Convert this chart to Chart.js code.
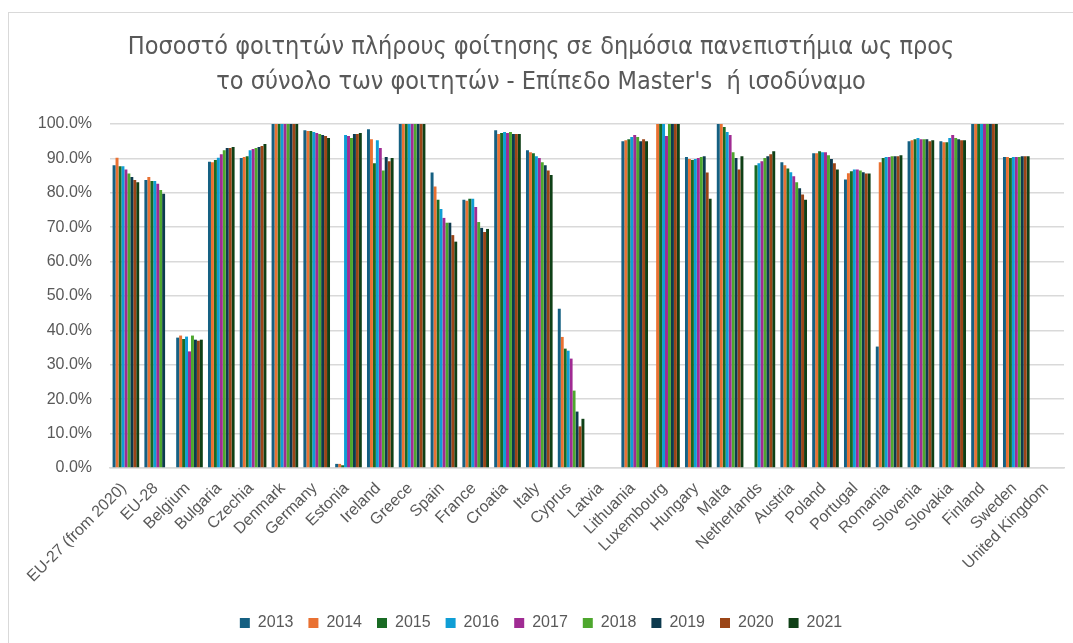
<!DOCTYPE html>
<html>
<head>
<meta charset="utf-8">
<script src="https://cdn.jsdelivr.net/npm/chart.js@4.4.1/dist/chart.umd.min.js"></script>
<style>
  html, body { margin: 0; padding: 0; background: #fff; overflow: hidden; }
  #frame { position: absolute; left: 8px; top: 12px; width: 1100px; height: 700px; border: 1px solid #d9d9d9; }
  #wrap { position: absolute; left: 0; top: 0; width: 1073px; height: 643px; }
</style>
</head>
<body>
<div id="frame"></div>
<div id="wrap"><canvas id="chart" width="1073" height="643"></canvas></div>
<script>
const categories = [
  "EU-27 (from 2020)", "EU-28", "Belgium", "Bulgaria", "Czechia", "Denmark", "Germany",
  "Estonia", "Ireland", "Greece", "Spain", "France", "Croatia", "Italy", "Cyprus", "Latvia",
  "Lithuania", "Luxembourg", "Hungary", "Malta", "Netherlands", "Austria", "Poland",
  "Portugal", "Romania", "Slovenia", "Slovakia", "Finland", "Sweden", "United Kingdom"
];

const years = ["2013", "2014", "2015", "2016", "2017", "2018", "2019", "2020", "2021"];

// percentage of students per year, one value per category (null = no data)
const y2013 = [88.0, 83.7, 37.9, 89.0, 90.1, 100, 98.2, 1.2, 98.5, 100, 85.9, 78.0, 98.2, 92.4, 46.3, null, 95.0, null, 90.4, 100, null, 88.9, 91.5, 83.9, 35.3, 95.0, 95.0, 100, 90.4, null];
const y2014 = [90.2, 84.6, 38.5, 88.9, 90.4, 100, 98.0, 1.2, 95.6, 100, 81.8, 77.7, 97.1, 91.8, 38.1, null, 95.3, 100, 89.8, 100, null, 88.0, 91.5, 85.7, 88.9, 95.3, 94.7, 100, 90.4, null];
const y2015 = [87.7, 83.4, 37.5, 89.5, 90.6, 100, 98.0, 0.8, 88.6, 100, 78.0, 78.3, 97.4, 91.5, 34.7, null, 95.6, 100, 89.5, 99.1, 88.0, 87.1, 92.1, 86.3, 90.1, 95.6, 94.7, 100, 90.1, null];
const y2016 = [87.7, 83.4, 38.2, 90.2, 92.4, 100, 97.7, 96.8, 95.3, 100, 75.3, 78.3, 97.7, 90.6, 34.1, null, 96.2, 100, 89.8, 97.7, 88.6, 86.0, 91.8, 86.8, 90.4, 95.9, 95.9, 100, 90.4, null];
const y2017 = [86.8, 82.6, 33.9, 91.2, 92.7, 100, 97.4, 96.5, 93.0, 100, 72.7, 75.9, 97.4, 90.1, 31.8, null, 96.8, 96.5, 90.1, 96.8, 89.2, 84.8, 91.8, 86.8, 90.4, 95.6, 96.8, 100, 90.4, null];
const y2018 = [85.6, 80.8, 38.5, 92.4, 93.0, 100, 97.1, 95.9, 86.5, 100, 71.3, 71.5, 97.7, 88.9, 22.5, null, 96.2, 100, 90.4, 91.8, 90.1, 83.1, 90.9, 86.5, 90.6, 95.6, 95.9, 100, 90.4, null];
const y2019 = [84.6, 79.7, 37.3, 93.0, 93.3, 100, 96.8, 97.1, 90.4, 100, 71.3, 69.8, 97.1, 88.0, 16.4, null, 95.0, 100, 90.6, 90.1, 90.6, 81.3, 89.8, 86.0, 90.6, 95.6, 95.6, 100, 90.6, null];
const y2020 = [83.7, null, 37.0, 93.0, 93.6, 100, 96.5, 97.1, 89.2, 100, 67.7, 68.6, 97.1, 86.5, 12.1, null, 95.6, 100, 85.9, 86.8, 91.2, 79.5, 88.6, 85.6, 90.6, 95.0, 95.3, 100, 90.6, null];
const y2021 = [83.1, null, 37.3, 93.3, 94.2, 100, 95.9, 97.4, 90.1, 100, 65.8, 69.5, 97.1, 85.2, 14.3, null, 95.0, 100, 78.3, 90.6, 92.1, 78.0, 86.8, 85.6, 90.9, 95.3, 95.3, 100, 90.6, null];

const series = [y2013, y2014, y2015, y2016, y2017, y2018, y2019, y2020, y2021];
const colors = ["#156082", "#E97132", "#196B24", "#0F9ED5", "#A02B93", "#4EA72E", "#0D3A4E", "#9B4517", "#0F4016"];

const textColor = "#595959";
const gridColor = "#d9d9d9";

const ctx = document.getElementById("chart").getContext("2d");
new Chart(ctx, {
  type: "bar",
  data: {
    labels: categories,
    datasets: years.map((y, i) => ({
      label: y,
      data: series[i],
      backgroundColor: colors[i],
      borderWidth: 0,
      barPercentage: 1.0,
      categoryPercentage: 0.837,
    })),
  },
  options: {
    responsive: false,
    animation: false,
    layout: { padding: { left: 18, right: 9, top: 0, bottom: 2 } },
    plugins: {
      title: {
        display: true,
        text: [
          "Ποσοστό φοιτητών πλήρους φοίτησης σε δημόσια πανεπιστήμια ως προς",
          "το σύνολο των φοιτητών - Επίπεδο Master's  ή ισοδύναμο",
        ],
        color: textColor,
        font: { family: "'Liberation Sans Narrow', 'DejaVu Sans Condensed', sans-serif", size: 25, weight: "normal", lineHeight: 1.4 },
        padding: { top: 30, bottom: 24 },
      },
      legend: {
        position: "bottom",
        labels: {
          color: textColor,
          boxWidth: 10,
          boxHeight: 10,
          padding: 15,
          font: { family: "'Liberation Sans', Arial, sans-serif", size: 16 },
        },
      },
      tooltip: { enabled: false },
    },
    scales: {
      x: {
        grid: { display: false, drawTicks: false },
        border: { color: gridColor, width: 1.5 },
        ticks: {
          color: textColor,
          autoSkip: false,
          maxRotation: 45,
          minRotation: 45,
          padding: 11,
          labelOffset: -2,
          font: { family: "'Liberation Sans', Arial, sans-serif", size: 16 },
        },
        afterFit: (scale) => { scale.height = 132; },
      },
      y: {
        min: 0,
        max: 100,
        grid: { color: gridColor, lineWidth: 1.5, drawTicks: false },
        border: { display: false },
        ticks: {
          stepSize: 10,
          color: textColor,
          padding: 18,
          font: { family: "'Liberation Sans', Arial, sans-serif", size: 16 },
          callback: (v) => v.toFixed(1) + "%",
        },
        afterFit: (scale) => { scale.width = 92; },
      },
    },
  },
});
</script>
</body>
</html>
